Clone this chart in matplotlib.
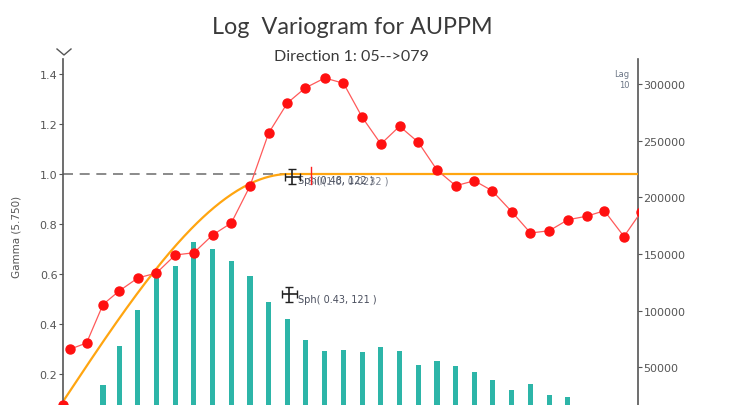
import numpy as np
import matplotlib.pyplot as plt
from matplotlib.lines import Line2D

# experimental variogram (red points), lag in metres
lags = [4, 12.6, 21.4, 30, 40, 50, 60, 70, 80, 90, 100, 110, 120, 129.5, 140,
        150, 160, 170, 180, 190, 200, 210, 220, 229.5, 240, 250, 260, 270,
        280, 289.5, 300, 309]
gamma = [0.30, 0.324, 0.478, 0.532, 0.584, 0.604, 0.676, 0.685, 0.756, 0.804,
         0.952, 1.164, 1.284, 1.344, 1.384, 1.363, 1.227, 1.12, 1.191, 1.127,
         1.016, 0.953, 0.973, 0.933, 0.849, 0.764, 0.773, 0.817, 0.831, 0.853,
         0.75, 0.847]

# number of pairs per lag (teal bars, right axis)
pair_lags = lags[2:28]
pairs = [34000, 69000, 100600, 136800, 139700, 160300, 154400, 143500, 130900,
         107900, 92600, 74400, 64700, 65300, 63200, 68200, 64100, 52100, 55300,
         50900, 46100, 39100, 30300, 35300, 25600, 23500]

# fitted model: nugget + two spherical structures
nugget = 0.09
sills = [0.43, 0.48]
ranges = [121, 121]
total_sill = 1.0

def spherical(h, c, a):
    r = np.minimum(h / a, 1.0)
    return c * (1.5 * r - 0.5 * r**3)

h = np.linspace(0, 307.5, 400)
model = nugget + sum(spherical(h, c, a) for c, a in zip(sills, ranges))

fig = plt.figure(figsize=(7.54, 4.06), dpi=100)
ax = fig.add_axes([63/754, -19/406, 575/754, 365/406])
ax2 = ax.twinx()
ax.set_zorder(ax2.get_zorder() + 1)
ax.patch.set_visible(False)

ax2.bar(pair_lags, pairs, width=2.7, color='#2db5a8')
ax2.set_ylim(0, 322000)
ax2.set_yticks([50000, 100000, 150000, 200000, 250000, 300000])

ax.axhline(total_sill, color='#777777', lw=1.2, dashes=(6, 4), zorder=1)
ax.plot(h, model, color='#ffa510', lw=1.6, zorder=2)
ax.plot(lags, gamma, color='#ff5a5a', lw=0.9, marker='o', ms=6.5,
        mfc='#ff1010', mec='#ff1010', zorder=3)
ax.plot([0], [0.075], 'o', color='#ff1010', ms=6.5, clip_on=False, zorder=3)

# structure markers
ax.errorbar([121], [nugget + sills[0]], yerr=0.03, xerr=4, color='#222222',
            lw=1.2, capsize=3, zorder=4)
ax.errorbar([122.5], [0.99], yerr=0.03, xerr=4, color='#222222',
            lw=1.2, capsize=3, zorder=4)
ax.plot([132.6, 132.6], [0.96, 1.03], color='#ff2020', lw=1, zorder=5)
ax.text(125.5, 0.5, 'Sph( 0.43, 121 )', fontsize=7, color='#4a4f5e', va='center')
ax.text(125.5, 0.975, 'Sph(0.48, 122 )', fontsize=7, color='#4a4f5e', va='center')
ax.text(131, 0.975, 'Sill(1.0, 0.0232 )', fontsize=7, color='#5a6070',
        va='center', alpha=0.8)

ax.set_xlim(0, 307.5)
ax.set_ylim(0, 1.46)
ax.set_yticks([0.2, 0.4, 0.6, 0.8, 1.0, 1.2, 1.4])
ax.set_xticks([])

for a in (ax, ax2):
    for s in ('top', 'bottom'):
        a.spines[s].set_visible(False)
    a.tick_params(labelsize=8, colors='#555555', length=3, width=0.8, pad=1)
ax.spines['left'].set_color('#555555')
ax.spines['left'].set_linewidth(1.2)
ax2.spines['right'].set_color('#555555')
ax2.spines['right'].set_linewidth(1.2)
ax.spines['right'].set_visible(False)
ax2.spines['left'].set_visible(False)

ax.set_ylabel('Gamma (5.750)', fontsize=7.5, color='#555555')
ax.yaxis.set_label_coords(-0.072, 0.515)

ax.text(0.985, 0.96, 'Lag', transform=ax.transAxes, fontsize=6,
        color='#6b7585', ha='right', va='center')
ax.text(0.985, 0.93, '10', transform=ax.transAxes, fontsize=6,
        color='#6b7585', ha='right', va='center')

# chevron on top of left axis
fig.add_artist(Line2D([57/754, 64/754, 71/754], [1 - 50/406, 1 - 56/406, 1 - 50/406],
                      color='#555555', lw=1))

fig.text(352/754, 1 - 28/406, 'Log  Variogram for AUPPM', fontsize=16.8,
         family='Lato', color='#3a3a3a', ha='center', va='center')
fig.text(351/754, 1 - 57/406, 'Direction 1: 05-->079', fontsize=11.5,
         family='Lato', color='#3a3a3a', ha='center', va='center')

fig.savefig('out.png', dpi=100)
